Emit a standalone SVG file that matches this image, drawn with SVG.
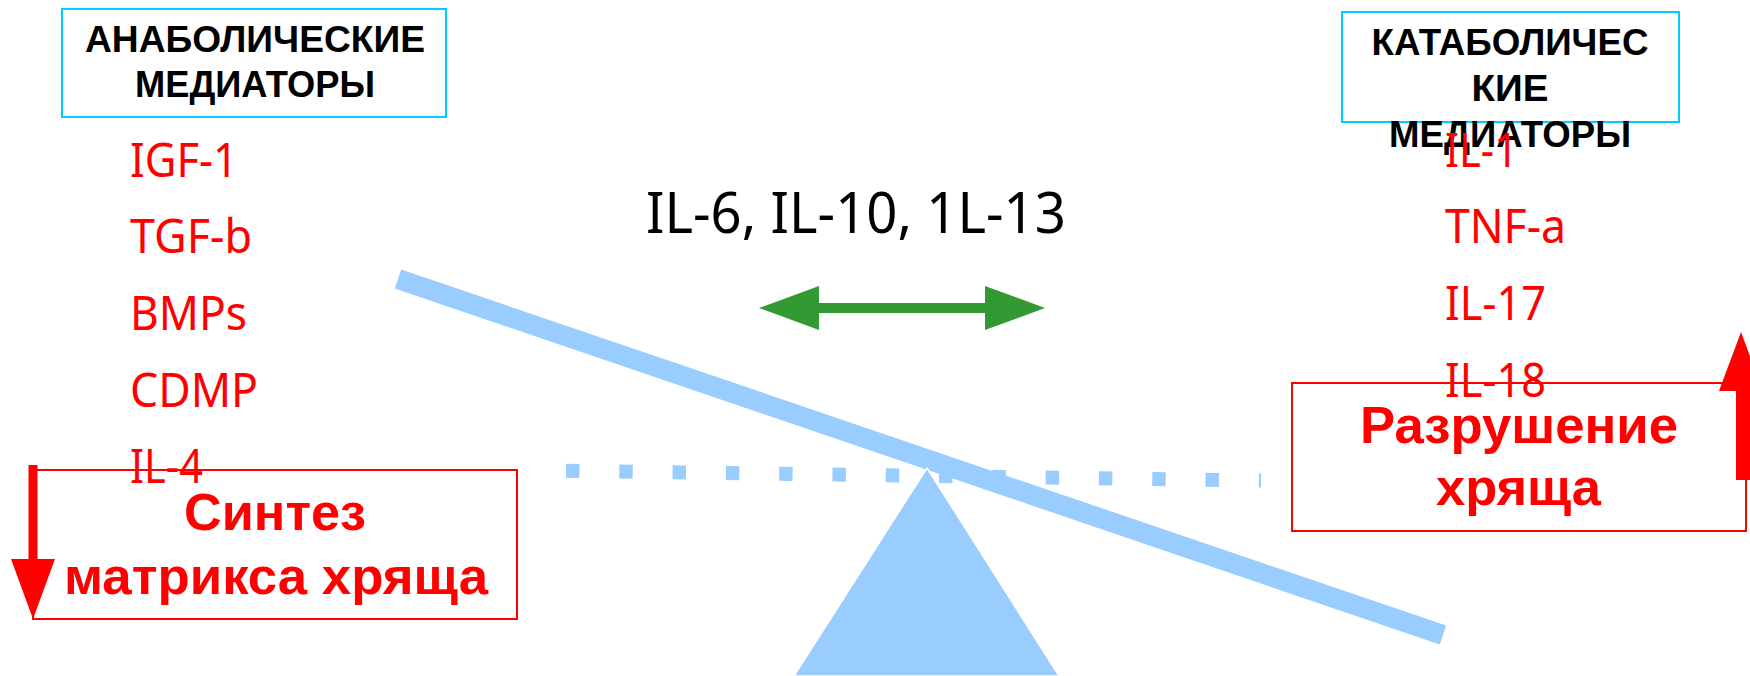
<svg xmlns="http://www.w3.org/2000/svg" width="1750" height="676" viewBox="0 0 1750 676">
<style>
.hdr{font-family:"Liberation Sans",Arial,sans-serif;font-weight:bold;font-size:36px;fill:#000;text-anchor:middle}
.hbox{fill:none;stroke:#00CCFF;stroke-width:2}
.item{font-family:"Noto Sans","Open Sans",sans-serif;font-size:48px;fill:#FF0000}
.big{font-family:"Liberation Sans",Arial,sans-serif;font-weight:bold;font-size:52px;fill:#FF0000;text-anchor:middle}
.rbox{fill:none;stroke:#FF0000;stroke-width:2}
.mid{font-family:"Noto Sans","Open Sans",sans-serif;font-size:57px;fill:#000}
.blue{fill:#99CCFF}
.red{fill:#FF0000}
.green{fill:#339933}
</style>
<rect width="1750" height="676" fill="#FFFFFF"/>

<g id="seesaw">
  <line x1="566" y1="470.7" x2="1261" y2="480.5" stroke="#99CCFF" stroke-width="14" stroke-dasharray="13.4 39.9"/>
  <line x1="398" y1="279" x2="1443" y2="635" stroke="#99CCFF" stroke-width="20"/>
  <polygon class="blue" points="927,468 1059,676 794,676" stroke="#FFFFFF" stroke-width="1.5"/>
</g>

<g id="anabolic-header">
  <rect class="hbox" x="62" y="9" width="384" height="108"/>
  <text class="hdr" x="255" y="52" textLength="340" lengthAdjust="spacingAndGlyphs">АНАБОЛИЧЕСКИЕ</text>
  <text class="hdr" x="255" y="97" textLength="240" lengthAdjust="spacingAndGlyphs">МЕДИАТОРЫ</text>
</g>

<g id="catabolic-header">
  <rect class="hbox" x="1342" y="12" width="337" height="110"/>
  <text class="hdr" x="1510" y="55" textLength="277" lengthAdjust="spacingAndGlyphs">КАТАБОЛИЧЕС</text>
  <text class="hdr" x="1510" y="101" textLength="77" lengthAdjust="spacingAndGlyphs">КИЕ</text>
  <text class="hdr" x="1510" y="147" textLength="242" lengthAdjust="spacingAndGlyphs">МЕДИАТОРЫ</text>
</g>

<g id="anabolic-list">
  <text class="item" x="130" y="177" textLength="108" lengthAdjust="spacingAndGlyphs">IGF-1</text>
  <text class="item" x="130" y="253" textLength="122" lengthAdjust="spacingAndGlyphs">TGF-b</text>
  <text class="item" x="130" y="330" textLength="117" lengthAdjust="spacingAndGlyphs">BMPs</text>
  <text class="item" x="130" y="407" textLength="128" lengthAdjust="spacingAndGlyphs">CDMP</text>
  <text class="item" x="130" y="483" textLength="73" lengthAdjust="spacingAndGlyphs">IL-4</text>
</g>

<g id="catabolic-list">
  <text class="item" x="1445" y="167" textLength="73" lengthAdjust="spacingAndGlyphs">IL-1</text>
  <text class="item" x="1445" y="243" textLength="121" lengthAdjust="spacingAndGlyphs">TNF-a</text>
  <text class="item" x="1445" y="320" textLength="101" lengthAdjust="spacingAndGlyphs">IL-17</text>
  <text class="item" x="1445" y="397" textLength="101" lengthAdjust="spacingAndGlyphs">IL-18</text>
</g>

<g id="balance-label">
  <text class="mid" x="646" y="233" textLength="420" lengthAdjust="spacingAndGlyphs">IL-6, IL-10, 1L-13</text>
</g>

<g id="synthesis-box">
  <rect class="rbox" x="33" y="470" width="484" height="149"/>
  <text class="big" x="275" y="530" textLength="182" lengthAdjust="spacingAndGlyphs">Синтез</text>
  <text class="big" x="276" y="594" textLength="424" lengthAdjust="spacingAndGlyphs">матрикса хряща</text>
</g>

<g id="destruction-box">
  <rect class="rbox" x="1292" y="383" width="454" height="148"/>
  <text class="big" x="1519" y="443" textLength="318" lengthAdjust="spacingAndGlyphs">Разрушение</text>
  <text class="big" x="1518.5" y="505" textLength="165" lengthAdjust="spacingAndGlyphs">хряща</text>
</g>

<g id="connectors">
  <path class="green" d="M759,308 L819,286 L819,303 L985,303 L985,286 L1045,308 L985,330 L985,313 L819,313 L819,330 Z"/>
  <path class="red" d="M28.5,465 L37.5,465 L37.5,559 L55,559 L33,619 L11,559 L28.5,559 Z"/>
  <path class="red" d="M1736,480 L1736,391 L1719,391 L1741,332 L1763,391 L1750,391 L1750,480 Z"/>
</g>
</svg>
